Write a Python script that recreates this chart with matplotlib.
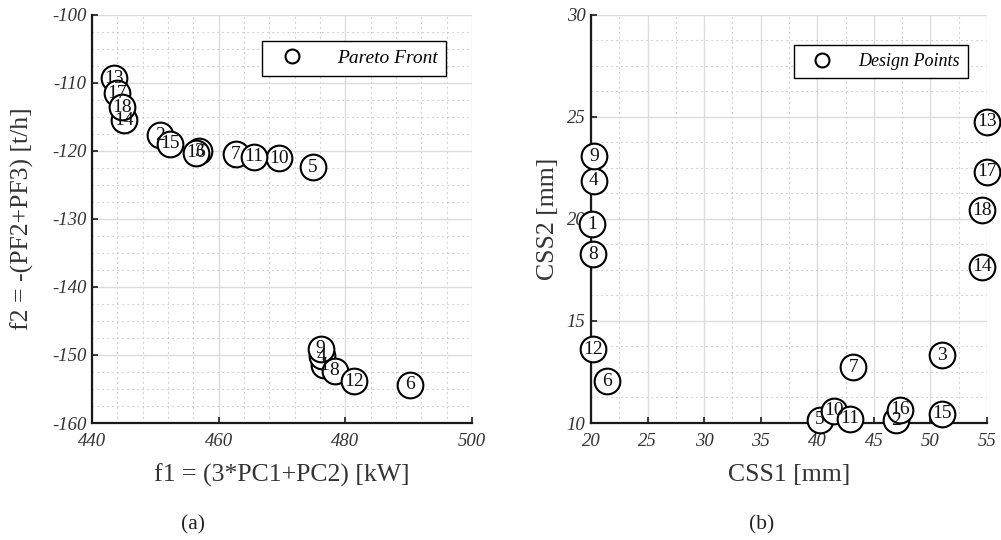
import matplotlib
matplotlib.use("Agg")
import matplotlib.pyplot as plt
from matplotlib.lines import Line2D
from matplotlib.ticker import MultipleLocator

plt.rcParams['font.family'] = ['Liberation Serif', 'DejaVu Serif']
plt.rcParams['axes.unicode_minus'] = False

# ---- data ----
point_ids = list(range(1, 19))
f1 = [476.6, 450.7, 456.9, 476.3, 474.9, 490.2, 462.7, 478.3, 476.1,
      469.6, 465.5, 481.4, 443.4, 445.1, 452.3, 456.4, 443.9, 444.8]
f2 = [-151.5, -117.7, -120.1, -150.2, -122.4, -154.4, -120.5, -152.3, -149.1,
      -121.1, -120.9, -153.9, -109.4, -115.5, -119.0, -120.3, -111.6, -113.6]
css1 = [20.1, 47.0, 51.0, 20.26, 40.2, 21.39, 43.2, 20.2, 20.26,
        41.5, 42.9, 20.15, 55.0, 54.6, 51.0, 47.3, 55.0, 54.6]
css2 = [19.74, 10.13, 13.32, 21.86, 10.17, 12.04, 12.74, 18.27, 23.06,
        10.59, 10.22, 13.6, 24.75, 17.64, 10.46, 10.66, 22.3, 20.42]

left_xticks = [440, 460, 480, 500]
left_yticks = [-160, -150, -140, -130, -120, -110, -100]
right_xticks = [20, 25, 30, 35, 40, 45, 50, 55]
right_yticks = [10, 15, 20, 25, 30]

fig = plt.figure(figsize=(10.01, 5.40), dpi=100)
ax1 = fig.add_axes([92/1001, 117/540, 380/1001, 408.5/540])
ax2 = fig.add_axes([591/1001, 117/540, 396/1001, 408.5/540])

def style(ax, xlim, ylim, xticks, yticks, xminor, yminor):
    ax.set_xlim(*xlim)
    ax.set_ylim(*ylim)
    ax.set_xticks(xticks)
    ax.set_yticks(yticks)
    ax.xaxis.set_minor_locator(MultipleLocator(xminor))
    ax.yaxis.set_minor_locator(MultipleLocator(yminor))
    ax.grid(True, which='major', color='#dcdcdc', linewidth=1.0, linestyle='-')
    ax.grid(True, which='minor', color='#b4b4b4', linewidth=0.8, linestyle=(0, (1, 3.5)))
    ax.set_axisbelow(True)
    for s in ['top', 'right']:
        ax.spines[s].set_visible(False)
    for s in ['left', 'bottom']:
        ax.spines[s].set_linewidth(1.6)
        ax.spines[s].set_color('#1a1a1a')
    ax.tick_params(which='major', direction='in', length=4, width=1.2,
                   top=False, right=False, labelsize=13.5, colors='#1a1a1a')
    ax.tick_params(axis='x', which='major', pad=7)
    ax.tick_params(axis='y', which='major', pad=4)
    ax.tick_params(which='minor', length=0)
    for lab in ax.get_xticklabels() + ax.get_yticklabels():
        lab.set_fontstyle('italic')
        lab.set_color('#333333')

def scatter_labels(ax, xs, ys):
    for i, (x, y) in enumerate(zip(xs, ys)):
        ax.plot([x], [y], 'o', markersize=18.5, markerfacecolor='white',
                markeredgecolor='black', markeredgewidth=1.5, clip_on=False,
                zorder=3 + i * 0.01)
    for pid, x, y in zip(point_ids, xs, ys):
        ax.text(x, y, str(pid), ha='center', va='center', fontsize=14,
                color='#111111', zorder=10, clip_on=False)

style(ax1, (440, 500), (-160, -100), left_xticks, left_yticks, 4, 2.5)
scatter_labels(ax1, f1, f2)
ax1.set_xlabel('f1 = (3*PC1+PC2) [kW]', fontsize=18.5, color='#333333')
ax1.set_ylabel('f2 = -(PF2+PF3) [t/h]', fontsize=18.5, color='#333333')
ax1.xaxis.set_label_coords(0.5, -(464 - 423) / 408.5)
ax1.yaxis.set_label_coords((34 - 92) / 380, 0.5)

style(ax2, (20, 55), (10, 30), right_xticks, right_yticks, 2.5, 1.25)
scatter_labels(ax2, css1, css2)
ax2.set_xlabel('CSS1 [mm]', fontsize=18.5, color='#333333')
ax2.set_ylabel('CSS2 [mm]', fontsize=18.5, color='#333333')
ax2.xaxis.set_label_coords(0.5, -(464 - 423) / 408.5)
ax2.yaxis.set_label_coords((559 - 591) / 396, 0.5)

def add_legend(ax, label, anchor, size, tpad):
    h = Line2D([], [], linestyle='none', marker='o', markersize=10,
               markerfacecolor='white', markeredgecolor='black', markeredgewidth=1.5)
    leg = ax.legend([h], [label], loc='upper right', bbox_to_anchor=anchor,
                    frameon=True, fancybox=False, framealpha=1, edgecolor='black',
                    prop={'family': 'Liberation Serif', 'style': 'italic', 'size': size},
                    handlelength=2.2, handletextpad=tpad, borderpad=0.45,
                    borderaxespad=0)
    leg.get_frame().set_linewidth(1.0)
    leg.set_zorder(20)

add_legend(ax1, 'Pareto Front', (0.932, 0.936), 14, 1.2)
add_legend(ax2, 'Design Points', (0.952, 0.925), 13, 0.9)

fig.text(193/1001, 1 - 525/540, '(a)', ha='center', va='center', fontsize=15.5, color='#222222')
fig.text(762/1001, 1 - 525/540, '(b)', ha='center', va='center', fontsize=15.5, color='#222222')

fig.savefig('out.png', dpi=100)
